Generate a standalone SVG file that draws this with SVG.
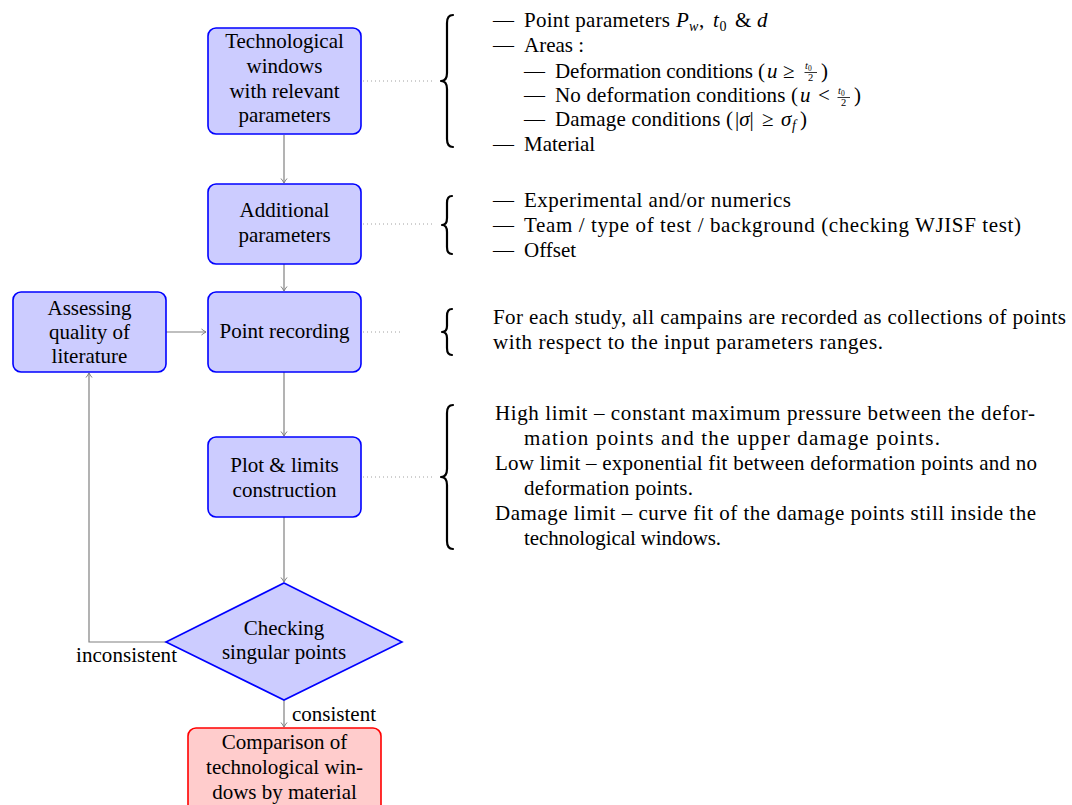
<svg xmlns="http://www.w3.org/2000/svg" width="1072" height="805" viewBox="0 0 1072 805" font-family="'Liberation Serif', 'DejaVu Serif', serif">
<defs>
<marker id="arr" markerUnits="userSpaceOnUse" markerWidth="10" markerHeight="10" refX="6" refY="4" orient="auto">
<path d="M1.5,1 Q4,3 6,4 Q4,5 1.5,7" fill="none" stroke="#808080" stroke-width="1"/>
</marker>
<style>
text{font-size:21px;fill:#000}
.c{text-anchor:middle}
.box{fill:#ccccff;stroke:#0000ff;stroke-width:1.6}
.rbox{fill:#ffcccc;stroke:#ff0000;stroke-width:1.6}
.con{fill:none;stroke:#808080;stroke-width:1.2}
.dot{fill:none;stroke:#a0a0a0;stroke-width:1;stroke-dasharray:1 3}
.brace{fill:none;stroke:#000;stroke-width:2.2;stroke-linecap:round;stroke-linejoin:round}
.i{font-style:italic}
.s{font-size:14px}
.f{font-size:10.5px}
</style>
</defs>
<rect width="1072" height="805" fill="#fff"/>

<g id="connectors">
<path class="con" d="M284,135 V183" marker-end="url(#arr)"/>
<path class="con" d="M284,264 V291" marker-end="url(#arr)"/>
<path class="con" d="M284,372 V436" marker-end="url(#arr)"/>
<path class="con" d="M284,517 V582" marker-end="url(#arr)"/>
<path class="con" d="M284,700 V727" marker-end="url(#arr)"/>
<path class="con" d="M166,332 H206" marker-end="url(#arr)"/>
<path class="con" d="M166,642 H89 V373" marker-end="url(#arr)"/>
<path class="dot" d="M363,81 H435"/>
<path class="dot" d="M363,224 H435"/>
<path class="dot" d="M363,332 H401"/>
<path class="dot" d="M363,477 H435"/>
<text x="76" y="662" textLength="101">inconsistent</text>
<text x="292" y="721" textLength="84">consistent</text>
</g>

<g id="n-techwin">
<rect class="box" x="208" y="28" width="153" height="106" rx="8"/>
<text class="c" x="284.5" y="48">Technological</text>
<text class="c" x="284.5" y="73">windows</text>
<text class="c" x="284.5" y="98">with relevant</text>
<text class="c" x="284.5" y="122">parameters</text>
</g>

<g id="n-additional">
<rect class="box" x="208" y="184" width="153" height="80" rx="8"/>
<text class="c" x="284.5" y="217">Additional</text>
<text class="c" x="284.5" y="242">parameters</text>
</g>

<g id="n-point">
<rect class="box" x="208" y="292" width="153" height="80" rx="8"/>
<text class="c" x="284.5" y="338">Point recording</text>
</g>

<g id="n-assess">
<rect class="box" x="13" y="292" width="153" height="80" rx="8"/>
<text class="c" x="89.5" y="315">Assessing</text>
<text class="c" x="89.5" y="339">quality of</text>
<text class="c" x="89.5" y="363">literature</text>
</g>

<g id="n-plot">
<rect class="box" x="208" y="437" width="153" height="80" rx="8"/>
<text class="c" x="284.5" y="472">Plot &amp; limits</text>
<text class="c" x="284.5" y="497">construction</text>
</g>

<g id="n-check">
<polygon class="box" points="284,583 402,642 284,700 166,642"/>
<text class="c" x="284" y="635">Checking</text>
<text class="c" x="284" y="659">singular points</text>
</g>

<g id="n-compare">
<rect class="rbox" x="188" y="728" width="193" height="90" rx="8"/>
<text class="c" x="284.5" y="749">Comparison of</text>
<text class="c" x="284.5" y="774">technological win-</text>
<text class="c" x="284.5" y="799">dows by material</text>
</g>

<g id="n-note1">
<path class="brace" d="M453,15 Q447,15 447,23 L447,73 Q447,81 441,81 Q447,81 447,89 L447,139 Q447,147 453,147"/>
<text x="493" y="27">—</text>
<text x="524" y="27" textLength="146">Point parameters</text>
<text x="676" y="27" class="i">P</text>
<text x="689" y="31" class="i s">w</text>
<text x="699" y="27">,</text>
<text x="713" y="27" class="i">t</text>
<text x="719.5" y="31" class="s">0</text>
<text x="735" y="27">&amp;</text>
<text x="757" y="27" class="i">d</text>
<text x="493" y="52">—</text>
<text x="524" y="52">Areas :</text>
<text x="524" y="78">—</text>
<text x="555" y="78" textLength="210">Deformation conditions (</text>
<text class="i" x="767" y="78">u</text>
<text x="783" y="78">≥</text>
<text class="f" x="805" y="69"><tspan class="i">t</tspan><tspan font-size="7.5" dy="1.5">0</tspan></text>
<path d="M804.5,72.5 H817" stroke="#000" stroke-width="0.8"/>
<text class="f" x="808" y="80.5">2</text>
<text x="821" y="78">)</text>
<text x="524" y="102">—</text>
<text x="555" y="102" textLength="243">No deformation conditions (</text>
<text class="i" x="800" y="102">u</text>
<text x="818" y="102">&lt;</text>
<text class="f" x="838" y="94"><tspan class="i">t</tspan><tspan font-size="7.5" dy="1.5">0</tspan></text>
<path d="M837.5,97.5 H850" stroke="#000" stroke-width="0.8"/>
<text class="f" x="841" y="106">2</text>
<text x="854" y="102">)</text>
<text x="524" y="126">—</text>
<text x="555" y="126" textLength="178">Damage conditions (</text>
<text x="735" y="126">|<tspan class="i">σ</tspan>|</text>
<text x="762" y="126">≥</text>
<text x="781" y="126" class="i">σ</text>
<text x="792" y="130" class="i s">f</text>
<text x="800" y="126">)</text>
<text x="493" y="151">—</text>
<text x="524" y="151">Material</text>
</g>

<g id="n-note2">
<path class="brace" d="M452,196 Q447,196 447,203 L447,218 Q447,225 442,225 Q447,225 447,232 L447,247 Q447,254 452,254"/>
<text x="493" y="207">—</text>
<text x="524" y="207" textLength="267">Experimental and/or numerics</text>
<text x="493" y="232">—</text>
<text x="524" y="232" textLength="497">Team / type of test / background (checking WJISF test)</text>
<text x="493" y="257">—</text>
<text x="524" y="257">Offset</text>
</g>

<g id="n-note3">
<path class="brace" d="M452,309 Q447,309 447,316 L447,326 Q447,332 442,332 Q447,332 447,338 L447,348 Q447,355 452,355"/>
<text x="493" y="324" textLength="573">For each study, all campains are recorded as collections of points</text>
<text x="493" y="349" textLength="390">with respect to the input parameters ranges.</text>
</g>

<g id="n-note4">
<path class="brace" d="M453,405 Q447,405 447,413 L447,469 Q447,477 441,477 Q447,477 447,485 L447,541 Q447,549 453,549"/>
<text x="495" y="420" textLength="540">High limit – constant maximum pressure between the defor-</text>
<text x="524" y="445" textLength="416">mation points and the upper damage points.</text>
<text x="495" y="470" textLength="542">Low limit – exponential fit between deformation points and no</text>
<text x="524" y="495" textLength="169">deformation points.</text>
<text x="495" y="520" textLength="541">Damage limit – curve fit of the damage points still inside the</text>
<text x="524" y="545" textLength="197">technological windows.</text>
</g>
</svg>
